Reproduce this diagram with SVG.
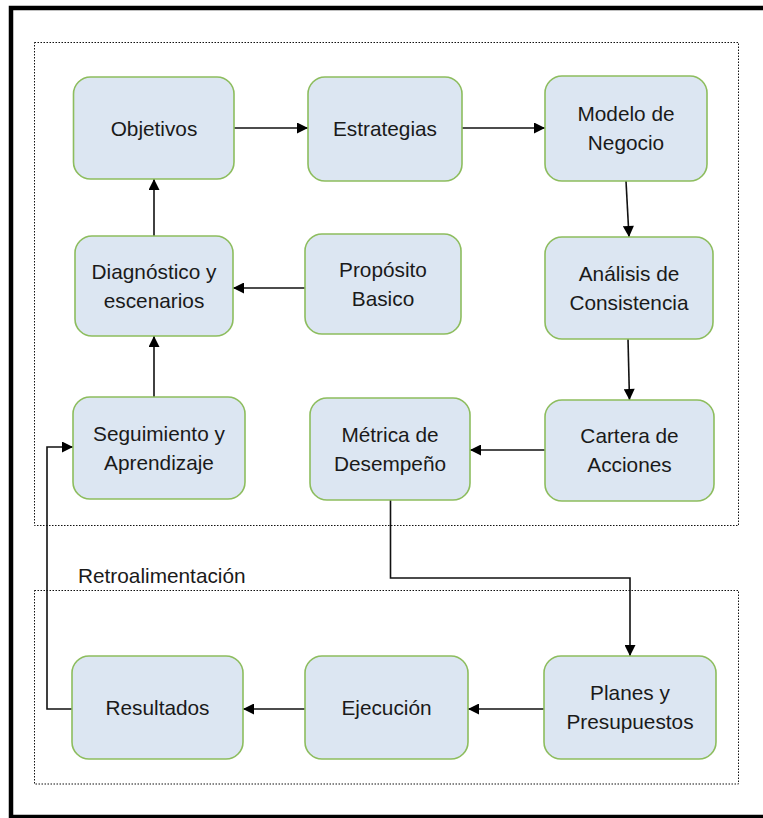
<svg xmlns="http://www.w3.org/2000/svg" width="763" height="818" viewBox="0 0 763 818">
<style>
.node rect{fill:#dce6f2;stroke:#8dbd5e;stroke-width:1.6}
.node text,.lbl{font-family:"Liberation Sans",Arial,sans-serif;font-size:20.8px;fill:#1a1a1a;text-anchor:middle}
.lbl{text-anchor:start}
.frame{fill:none;stroke:#111;stroke-width:1;stroke-dasharray:1.5 1.5}
#connectors path{fill:none;stroke:#111;stroke-width:1.6}
</style>
<defs>
<marker id="ah" viewBox="0 0 10 10" refX="10" refY="5" markerWidth="12" markerHeight="11" markerUnits="userSpaceOnUse" orient="auto">
<path d="M0,0 L10,5 L0,10 z" fill="#000"/>
</marker>
</defs>
<rect width="763" height="818" fill="#fff"/>
<rect x="11" y="8" width="800" height="809" fill="none" stroke="#000" stroke-width="4.5"/>
<rect class="frame" x="34.5" y="42.5" width="704" height="483"/>
<rect class="frame" x="34.5" y="590.5" width="704" height="193.5"/>
<text class="lbl" x="78" y="583">Retroalimentación</text>

<g id="connectors">
<path d="M234,128 L308,128" marker-end="url(#ah)"/>
<path d="M462,128 L545,128" marker-end="url(#ah)"/>
<path d="M626,181 L629,237" marker-end="url(#ah)"/>
<path d="M628,339 L629.5,400" marker-end="url(#ah)"/>
<path d="M545,450 L470,450" marker-end="url(#ah)"/>
<path d="M390.5,500 L390.5,578 L630,578 L630,656" marker-end="url(#ah)"/>
<path d="M544,709 L468,709" marker-end="url(#ah)"/>
<path d="M305,709 L243,709" marker-end="url(#ah)"/>
<path d="M72,709 L47,709 L47,447 L73,447" marker-end="url(#ah)"/>
<path d="M154,397 L154,336" marker-end="url(#ah)"/>
<path d="M154,236 L154,179" marker-end="url(#ah)"/>
<path d="M305,288 L233,288" marker-end="url(#ah)"/>
</g>

<g id="objetivos" class="node"><rect x="73.5" y="77" width="160.5" height="102" rx="17"/><text x="154" y="135.5">Objetivos</text></g>
<g id="estrategias" class="node"><rect x="308" y="77" width="154" height="104" rx="17"/><text x="385" y="136">Estrategias</text></g>
<g id="modelo" class="node"><rect x="545" y="76" width="162" height="105" rx="17"/><text x="626" y="121">Modelo de</text><text x="626" y="150">Negocio</text></g>
<g id="diagnostico" class="node"><rect x="75" y="236" width="158" height="100" rx="17"/><text x="154" y="279">Diagnóstico y</text><text x="154" y="308">escenarios</text></g>
<g id="proposito" class="node"><rect x="305" y="234" width="156" height="100" rx="17"/><text x="383" y="277">Propósito</text><text x="383" y="306">Basico</text></g>
<g id="analisis" class="node"><rect x="545" y="237" width="168" height="102" rx="17"/><text x="629" y="281">Análisis de</text><text x="629" y="310">Consistencia</text></g>
<g id="seguimiento" class="node"><rect x="73" y="397" width="172" height="102" rx="17"/><text x="159" y="441">Seguimiento y</text><text x="159" y="470">Aprendizaje</text></g>
<g id="metrica" class="node"><rect x="310" y="398" width="160" height="102" rx="17"/><text x="390" y="442">Métrica de</text><text x="390" y="471">Desempeño</text></g>
<g id="cartera" class="node"><rect x="545" y="400" width="169" height="101" rx="17"/><text x="629.5" y="443">Cartera de</text><text x="629.5" y="472">Acciones</text></g>
<g id="resultados" class="node"><rect x="72" y="656" width="171" height="103" rx="17"/><text x="157.5" y="715">Resultados</text></g>
<g id="ejecucion" class="node"><rect x="305" y="656" width="163" height="103" rx="17"/><text x="386.5" y="715">Ejecución</text></g>
<g id="planes" class="node"><rect x="544" y="656" width="172" height="103" rx="17"/><text x="630" y="700">Planes y</text><text x="630" y="729">Presupuestos</text></g>
</svg>
